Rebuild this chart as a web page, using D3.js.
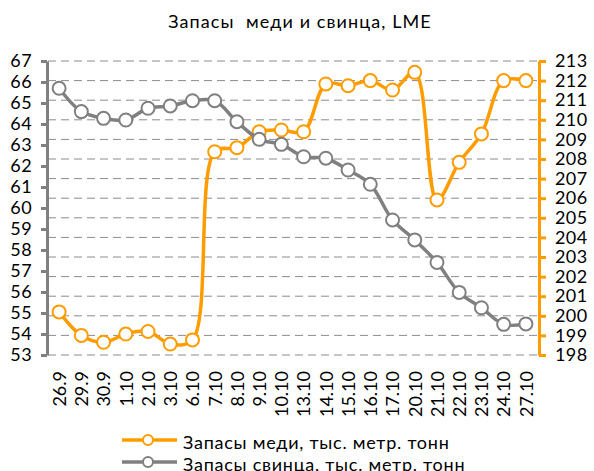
<!DOCTYPE html>
<html>
<head>
<meta charset="utf-8">
<script src="https://cdn.jsdelivr.net/npm/d3@7"></script>
<style>
  body { margin: 0; background: #fff; }
  svg text { font-family: "Lato", "Liberation Sans", sans-serif; fill: #000; }
</style>
</head>
<body>
<div id="container"></div>
<script>
// dates on the x axis
const dates = ["26.9", "29.9", "30.9", "1.10", "2.10", "3.10", "6.10", "7.10", "8.10", "9.10", "10.10",
  "13.10", "14.10", "15.10", "16.10", "17.10", "20.10", "21.10", "22.10", "23.10", "24.10", "27.10"];

// copper stocks (right axis)
const copper = [200.2, 199.0, 198.65, 199.07, 199.2, 198.56, 198.77, 208.37, 208.58, 209.39, 209.48,
  209.39, 211.83, 211.74, 212.0, 211.52, 212.42, 205.91, 207.83, 209.28, 212.0, 212.0];

// lead stocks (left axis)
const lead = [65.7, 64.59, 64.27, 64.19, 64.75, 64.86, 65.11, 65.11, 64.11, 63.27, 63.03,
  62.44, 62.37, 61.81, 61.13, 59.43, 58.48, 57.41, 55.98, 55.25, 54.46, 54.48];

const leftTicks = d3.range(53, 68);
const rightTicks = d3.range(198, 214);

const title = "Запасы  меди и свинца, LME";
const copperName = "Запасы меди, тыс. метр. тонн";
const leadName = "Запасы свинца, тыс. метр. тонн";

const orange = "#ff9c00";
const grey = "#808080";

const W = 594, H = 471;
const plotLeft = 48, plotRight = 537, plotTop = 61, plotBottom = 355;

var svg = d3.select("#container").append("svg")
  .attr("width", W)
  .attr("height", H);

var x = d3.scalePoint().domain(dates).range([plotLeft, plotRight]).padding(0.5);
var yL = d3.scaleLinear().domain([53, 67]).range([plotBottom, plotTop]);
var yR = d3.scaleLinear().domain([198, 213]).range([plotBottom, plotTop]);

// dashed gridlines (follow the right axis)
svg.append("g")
  .selectAll("line")
  .data(rightTicks)
  .enter()
  .append("line")
  .attr("x1", plotLeft)
  .attr("x2", plotRight)
  .attr("y1", d => yR(d))
  .attr("y2", d => yR(d))
  .attr("stroke", "#8c8c8c")
  .attr("stroke-width", 1)
  .attr("stroke-dasharray", "8,5");

// left axis
var gL = svg.append("g")
  .attr("transform", "translate(" + 47 + ",0)")
  .call(d3.axisLeft(yL).tickValues(leftTicks).tickSize(6).tickSizeOuter(0).tickPadding(9));
gL.select(".domain").attr("stroke", grey).attr("stroke-width", 3);
gL.selectAll(".tick line").attr("stroke", grey).attr("stroke-width", 3);
gL.selectAll(".tick text").attr("font-size", 18).style("letter-spacing", "0.4px");

// right axis
var gR = svg.append("g")
  .attr("transform", "translate(" + 539 + ",0)")
  .call(d3.axisRight(yR).tickValues(rightTicks).tickSize(7).tickSizeOuter(0).tickPadding(9));
gR.select(".domain").attr("stroke", orange).attr("stroke-width", 3);
gR.selectAll(".tick line").attr("stroke", orange).attr("stroke-width", 3);
gR.selectAll(".tick text").attr("font-size", 18).style("letter-spacing", "0.4px");

// x labels, rotated
var gX = svg.append("g")
  .attr("transform", "translate(0," + plotBottom + ")")
  .call(d3.axisBottom(x).tickSize(0).tickPadding(0));
gX.select(".domain").remove();
gX.selectAll(".tick text")
  .attr("font-size", 18)
  .attr("transform", "rotate(-90)")
  .attr("text-anchor", "end")
  .attr("x", -16)
  .attr("y", 0)
  .attr("dy", "0.35em");

function drawSeries(values, yScale, color) {
  var line = d3.line()
    .x((d, i) => x(dates[i]))
    .y(d => yScale(d))
    .curve(d3.curveCatmullRom.alpha(0.5));
  svg.append("path")
    .datum(values)
    .attr("fill", "none")
    .attr("stroke", color)
    .attr("stroke-width", 3.5)
    .attr("d", line);
  svg.append("g")
    .selectAll("circle")
    .data(values)
    .enter()
    .append("circle")
    .attr("cx", (d, i) => x(dates[i]))
    .attr("cy", d => yScale(d))
    .attr("r", 6.5)
    .attr("fill", "#fff")
    .attr("stroke", color)
    .attr("stroke-width", 2);
}

drawSeries(copper, yR, orange);
drawSeries(lead, yL, grey);

// title
svg.append("text")
  .attr("x", 300)
  .attr("y", 28)
  .attr("text-anchor", "middle")
  .attr("font-size", 18)
  .style("letter-spacing", "1.1px")
  .style("white-space", "pre")
  .text(title);

// legend
var legend = [{ name: copperName, color: orange }, { name: leadName, color: grey }];
var lg = svg.append("g")
  .selectAll("g")
  .data(legend)
  .enter()
  .append("g")
  .attr("transform", (d, i) => "translate(0," + (440 + i * 22) + ")");
lg.append("line")
  .attr("x1", 122).attr("x2", 177)
  .attr("stroke", d => d.color)
  .attr("stroke-width", 3.5);
lg.append("circle")
  .attr("cx", 148).attr("r", 5)
  .attr("fill", "#fff")
  .attr("stroke", d => d.color)
  .attr("stroke-width", 2);
lg.append("text")
  .attr("x", 183)
  .attr("dy", 8.5)
  .attr("font-size", 18)
  .style("letter-spacing", "0.75px")
  .text(d => d.name);
</script>
</body>
</html>
